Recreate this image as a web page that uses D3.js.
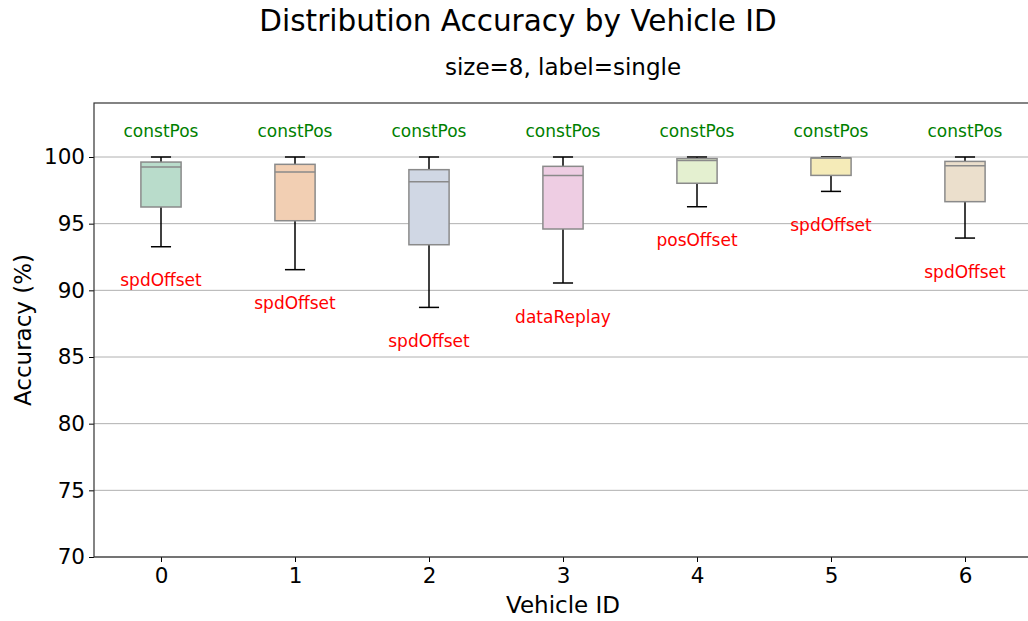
<!DOCTYPE html>
<html>
<head>
<meta charset="utf-8">
<script src="https://cdn.jsdelivr.net/npm/d3@7"></script>
<style>
  body { margin: 0; background: #fff; }
  text { font-family: "DejaVu Sans", sans-serif; }
</style>
</head>
<body>
<script>
// box stats per vehicle
const vehicleIds = [0, 1, 2, 3, 4, 5, 6];
const whiskerHigh = [100, 100, 100, 100, 100, 100, 100];
const q3 = [99.62, 99.45, 99.05, 99.3, 99.88, 99.92, 99.67];
const medians = [99.25, 98.88, 98.15, 98.62, 99.73, 99.95, 99.35];
const q1 = [96.25, 95.22, 93.42, 94.6, 98.03, 98.62, 96.65];
const whiskerLow = [93.27, 91.55, 88.72, 90.55, 96.27, 97.42, 93.92];
const topLabels = ["constPos", "constPos", "constPos", "constPos", "constPos", "constPos", "constPos"];
const bottomLabels = ["spdOffset", "spdOffset", "spdOffset", "dataReplay", "posOffset", "spdOffset", "spdOffset"];
const yTicks = [70, 75, 80, 85, 90, 95, 100];
const boxColors = ["#b9dccb", "#f2cfb3", "#d0d7e4", "#eecde3", "#e4f0d0", "#f5ebb8", "#ebdfcc"];

const width = 1028;
const height = 621;
const margin = { top: 103, right: -4, bottom: 64, left: 94 };

const svg = d3
    .select("body")
    .append("svg")
    .attr("width", width)
    .attr("height", height);

const x = d3
    .scaleLinear()
    .domain([-0.5, 6.5])
    .range([margin.left, width - margin.right]);

const y = d3
    .scaleLinear()
    .domain([70, 104.05])
    .range([height - margin.bottom, margin.top]);

// grid lines
svg.append("g")
    .selectAll("line")
    .data(yTicks)
    .join("line")
    .attr("x1", margin.left)
    .attr("x2", width - margin.right)
    .attr("y1", (d) => y(d))
    .attr("y2", (d) => y(d))
    .attr("stroke", "#b0b0b0")
    .attr("stroke-width", 1);

const data = vehicleIds.map((id, i) => ({
    id,
    hi: whiskerHigh[i],
    q3: q3[i],
    med: medians[i],
    q1: q1[i],
    lo: whiskerLow[i],
    top: topLabels[i],
    bottom: bottomLabels[i],
    color: boxColors[i],
}));

const boxW = x(0.3) - x(0);
const capW = boxW / 2;

const boxes = svg.append("g")
    .selectAll("g")
    .data(data)
    .join("g");

// whiskers
boxes.append("line")
    .attr("x1", (d) => x(d.id))
    .attr("x2", (d) => x(d.id))
    .attr("y1", (d) => y(d.q3))
    .attr("y2", (d) => y(d.hi))
    .attr("stroke", "#000")
    .attr("stroke-width", 1.5);

boxes.append("line")
    .attr("x1", (d) => x(d.id))
    .attr("x2", (d) => x(d.id))
    .attr("y1", (d) => y(d.q1))
    .attr("y2", (d) => y(d.lo))
    .attr("stroke", "#000")
    .attr("stroke-width", 1.5);

// caps
boxes.append("line")
    .attr("x1", (d) => x(d.id) - capW / 2)
    .attr("x2", (d) => x(d.id) + capW / 2)
    .attr("y1", (d) => y(d.hi))
    .attr("y2", (d) => y(d.hi))
    .attr("stroke", "#000")
    .attr("stroke-width", 1.5);

boxes.append("line")
    .attr("x1", (d) => x(d.id) - capW / 2)
    .attr("x2", (d) => x(d.id) + capW / 2)
    .attr("y1", (d) => y(d.lo))
    .attr("y2", (d) => y(d.lo))
    .attr("stroke", "#000")
    .attr("stroke-width", 1.5);

// box
boxes.append("rect")
    .attr("x", (d) => x(d.id) - boxW / 2)
    .attr("y", (d) => y(d.q3))
    .attr("width", boxW)
    .attr("height", (d) => y(d.q1) - y(d.q3))
    .attr("fill", (d) => d.color)
    .attr("stroke", "#8a8a8a")
    .attr("stroke-width", 1.5);

// median
boxes.append("line")
    .attr("x1", (d) => x(d.id) - boxW / 2)
    .attr("x2", (d) => x(d.id) + boxW / 2)
    .attr("y1", (d) => y(d.med))
    .attr("y2", (d) => y(d.med))
    .attr("stroke", "#8a8a8a")
    .attr("stroke-width", 1.5);

// labels above / below each box
boxes.append("text")
    .attr("x", (d) => x(d.id))
    .attr("y", y(101.5))
    .attr("text-anchor", "middle")
    .attr("font-size", "17px")
    .attr("fill", "green")
    .text((d) => d.top);

boxes.append("text")
    .attr("x", (d) => x(d.id))
    .attr("y", (d) => y(d.lo - 2))
    .attr("dy", "0.76em")
    .attr("text-anchor", "middle")
    .attr("font-size", "17px")
    .attr("fill", "red")
    .text((d) => d.bottom);

// axes
const xAxis = svg.append("g")
    .attr("transform", `translate(0,${height - margin.bottom})`)
    .call(d3.axisBottom(x).tickValues(vehicleIds).tickFormat(d3.format("d")).tickSize(5).tickPadding(6));

const yAxis = svg.append("g")
    .attr("transform", `translate(${margin.left},0)`)
    .call(d3.axisLeft(y).tickValues(yTicks).tickSize(5).tickPadding(4));

[xAxis, yAxis].forEach((g) => {
    g.select(".domain").remove();
    g.selectAll("text").attr("font-size", "21.5px").attr("fill", "#000").style("font-family", "DejaVu Sans");
    g.selectAll("line").attr("stroke", "#000");
});

// frame
svg.append("rect")
    .attr("x", margin.left)
    .attr("y", margin.top)
    .attr("width", width - margin.right - margin.left)
    .attr("height", height - margin.bottom - margin.top)
    .attr("fill", "none")
    .attr("stroke", "#333")
    .attr("stroke-width", 1.2);

// titles
svg.append("text")
    .attr("x", 518)
    .attr("y", 31)
    .attr("text-anchor", "middle")
    .attr("font-size", "29.5px")
    .text("Distribution Accuracy by Vehicle ID");

svg.append("text")
    .attr("x", (margin.left + width - margin.right) / 2)
    .attr("y", 75)
    .attr("text-anchor", "middle")
    .attr("font-size", "23px")
    .text("size=8, label=single");

svg.append("text")
    .attr("x", (margin.left + width - margin.right) / 2)
    .attr("y", 613)
    .attr("text-anchor", "middle")
    .attr("font-size", "23px")
    .text("Vehicle ID");

svg.append("text")
    .attr("transform", `translate(31,${(margin.top + height - margin.bottom) / 2}) rotate(-90)`)
    .attr("text-anchor", "middle")
    .attr("font-size", "23px")
    .text("Accuracy (%)");
</script>
</body>
</html>
